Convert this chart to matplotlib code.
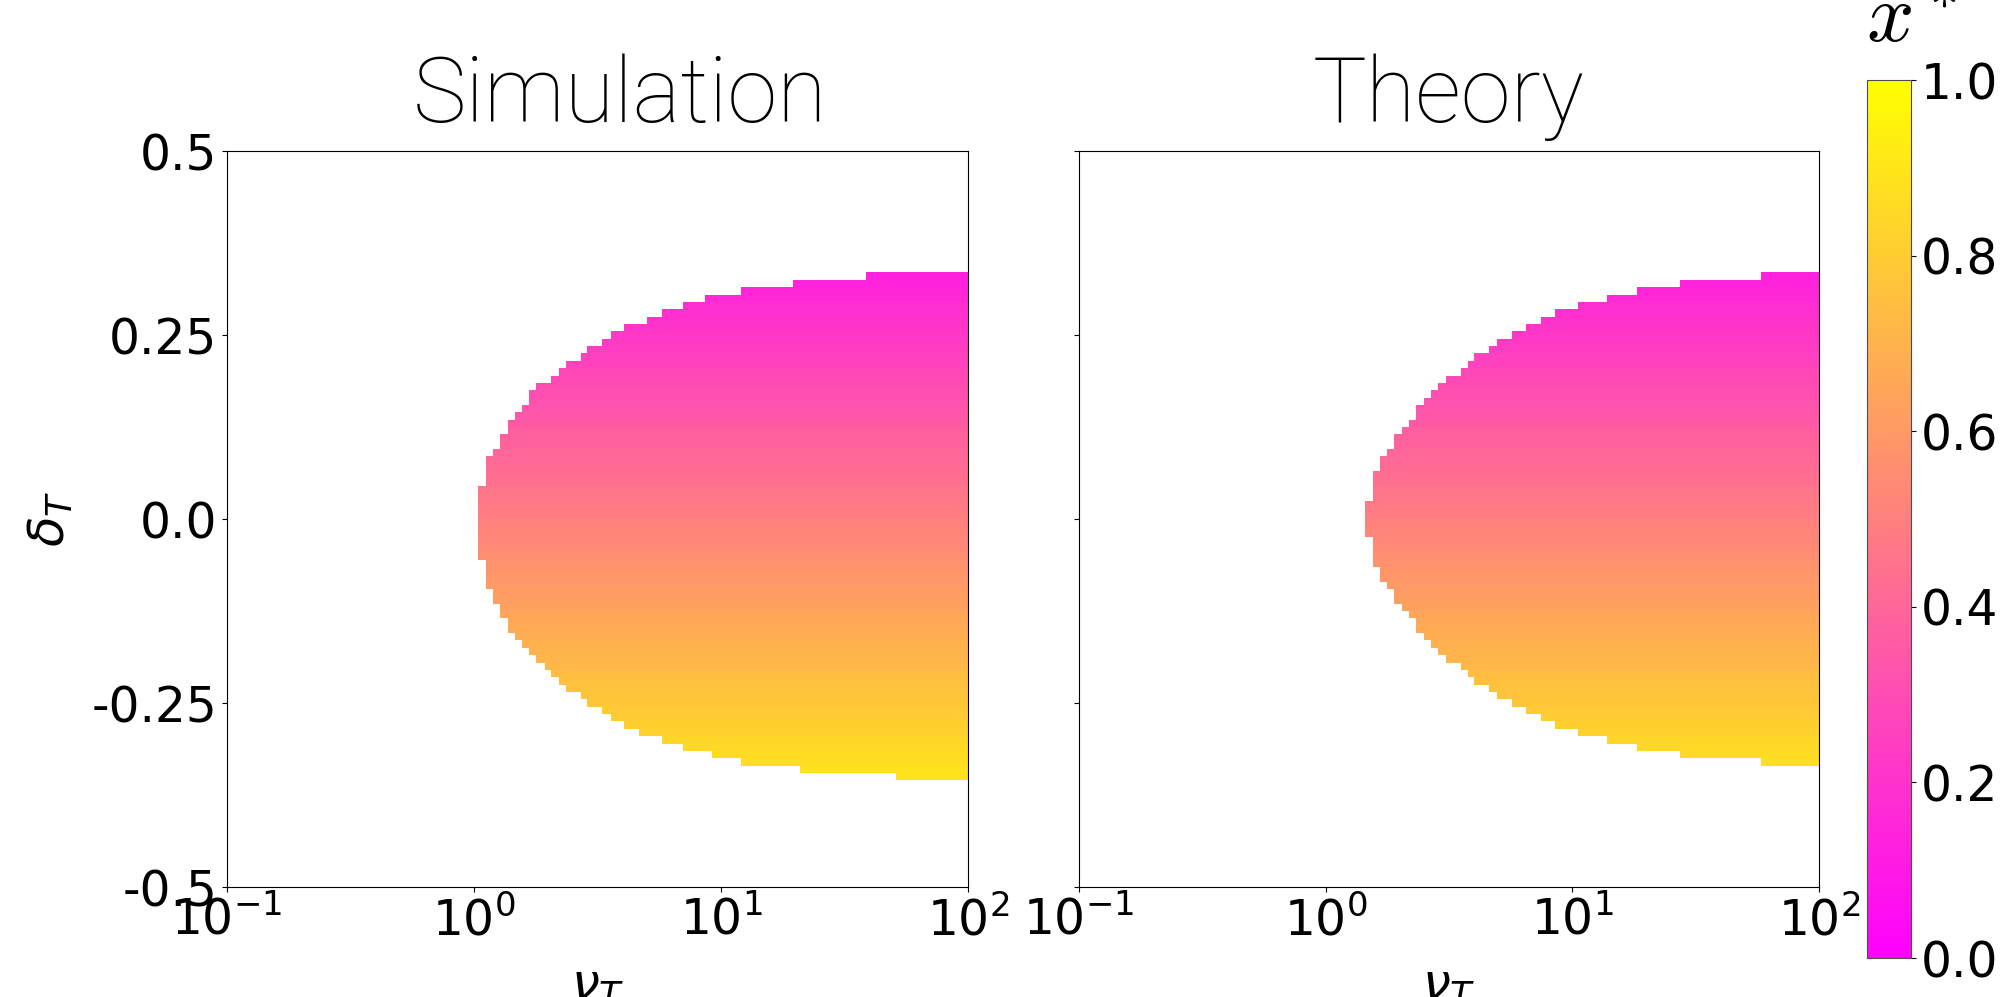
import numpy as np
import matplotlib
matplotlib.use("Agg")
import matplotlib.pyplot as plt
from matplotlib.ticker import NullLocator

# delta_T rows (centres, top to bottom), one row per 0.01
delta_rows = np.round(np.arange(0.33, -0.355, -0.01), 2)

# x*
xstar_rows = [0.13, 0.14, 0.15, 0.16, 0.18, 0.19, 0.20, 0.21, 0.22, 0.23,
              0.24, 0.25, 0.26, 0.28, 0.29, 0.30, 0.31, 0.32, 0.33, 0.34,
              0.35, 0.37, 0.38, 0.39, 0.40, 0.41, 0.42, 0.43, 0.44, 0.46,
              0.47, 0.48, 0.49, 0.50, 0.51, 0.52, 0.53, 0.54, 0.56, 0.57,
              0.58, 0.59, 0.60, 0.61, 0.62, 0.63, 0.65, 0.66, 0.67, 0.68,
              0.69, 0.70, 0.71, 0.72, 0.74, 0.75, 0.76, 0.77, 0.78, 0.79,
              0.80, 0.81, 0.82, 0.84, 0.85, 0.86, 0.87, 0.88, 0.89]

# smallest nu_T with a stable state, per row (nan = none)
sim_nu_start = [38.7, 19.5, 12.1, 8.62, 7.03, 5.76, 5.02, 4.05, 3.57, 3.31,
                2.88, 2.71, 2.36, 2.21, 2.05, 1.79, 1.67, 1.67, 1.57, 1.46,
                1.37, 1.37, 1.27, 1.27, 1.19, 1.12, 1.12, 1.12, 1.12, 1.04,
                1.04, 1.04, 1.04, 1.04, 1.04, 1.04, 1.04, 1.04, 1.04, 1.12,
                1.12, 1.12, 1.12, 1.19, 1.19, 1.27, 1.27, 1.37, 1.37, 1.46,
                1.57, 1.67, 1.79, 1.93, 2.05, 2.21, 2.36, 2.71, 2.88, 3.31,
                3.57, 4.05, 4.65, 5.76, 7.03, 9.21, 12.1, 20.8, 51.2]

theory_nu_start = [58.3, 27.2, 18.2, 13.8, 10.5, 8.54, 7.45, 6.47, 5.70, 4.96,
                   4.59, 4.01, 3.76, 3.53, 3.08, 2.85, 2.68, 2.50, 2.33, 2.33,
                   2.18, 2.03, 1.90, 1.90, 1.77, 1.66, 1.66, 1.55, 1.55, 1.55,
                   1.55, 1.44, 1.44, 1.44, 1.44, 1.44, 1.55, 1.55, 1.55, 1.55,
                   1.66, 1.66, 1.77, 1.90, 1.90, 2.03, 2.18, 2.33, 2.33, 2.50,
                   2.68, 2.85, 3.08, 3.53, 3.76, 4.01, 4.59, 4.96, 5.70, 6.47,
                   7.45, 8.54, 10.5, 13.8, 18.2, 27.2, 58.3, np.nan, np.nan]

titles = ["Simulation", "Theory"]
yticks = [0.5, 0.25, 0.0, -0.25, -0.5]
ytick_labels = ["0.5", "0.25", "0.0", "-0.25", "-0.5"]
cbar_ticks = [0.0, 0.2, 0.4, 0.6, 0.8, 1.0]


def build_grid(starts):
    starts = np.asarray(starts, dtype=float)
    edges = np.unique(np.concatenate([[0.1, 100.0],
                                      np.asarray(sim_nu_start),
                                      np.asarray(theory_nu_start)[np.isfinite(theory_nu_start)]]))
    vals = np.asarray(xstar_rows)[:, None] * np.ones(len(edges) - 1)
    mask = ~(edges[None, :-1] >= starts[:, None] - 1e-9)
    mask |= ~np.isfinite(starts)[:, None]
    C = np.ma.masked_array(vals, mask=mask)
    d_edges = np.concatenate([delta_rows + 0.005, [delta_rows[-1] - 0.005]])
    # flip so rows go bottom to top
    return edges, d_edges[::-1], C[::-1]


fig = plt.figure(figsize=(20.02, 9.97), dpi=100)
ax1 = fig.add_axes([0.1134, 0.1103, 0.3701, 0.7382])
ax2 = fig.add_axes([0.5390, 0.1103, 0.3696, 0.7382])
cax = fig.add_axes([0.9326, 0.0391, 0.0220, 0.8806])

for ax, starts, title in zip([ax1, ax2], [sim_nu_start, theory_nu_start], titles):
    nu_e, d_e, C = build_grid(starts)
    mesh = ax.pcolormesh(nu_e, d_e, C, cmap="spring", vmin=0, vmax=1,
                         shading="flat", antialiased=False, linewidth=0)
    ax.set_xscale("log")
    ax.set_xlim(0.1, 100)
    ax.set_ylim(-0.5, 0.5)
    ax.xaxis.set_minor_locator(NullLocator())
    ax.set_xticks([0.1, 1, 10, 100])
    ax.set_yticks(yticks)
    ax.tick_params(labelsize=35)
    ax.set_xlabel(r"$\nu_T$", fontsize=36, labelpad=12)
    tx = 0.53 if title == "Simulation" else 0.5
    ax.set_title(title, fontsize=65, family="Roboto", fontweight="light",
                 pad=21, x=tx)

ax1.set_yticklabels(ytick_labels)
ax1.set_ylabel(r"$\delta_T$", fontsize=36, labelpad=12)
ax2.set_yticklabels([])

cb = fig.colorbar(mesh, cax=cax, ticks=cbar_ticks)
cb.ax.tick_params(labelsize=35)
cb.outline.set_edgecolor("0.3")

fig.text(1866 / 2002, 1 - 42 / 997, r"$x^*$", fontsize=60, ha="left",
         va="baseline", math_fontfamily="cm")

fig.savefig("out.png", dpi=100)
